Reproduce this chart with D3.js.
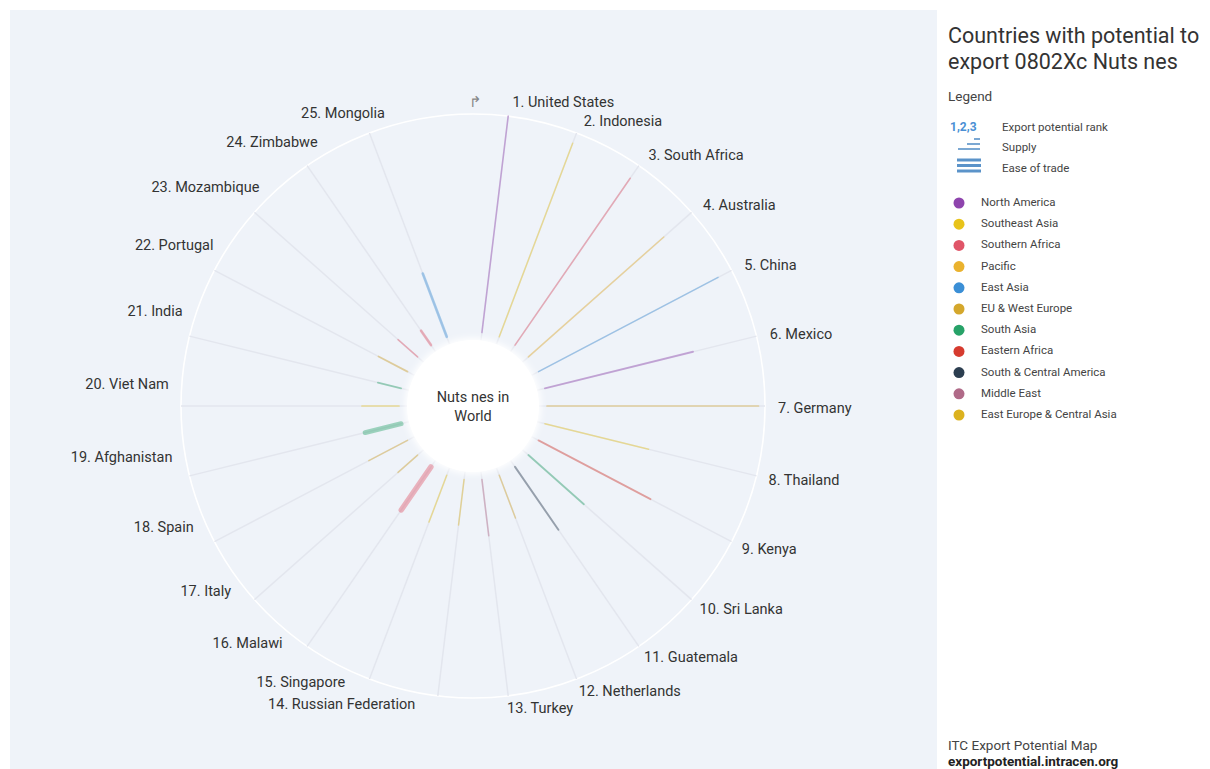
<!DOCTYPE html>
<html>
<head>
<meta charset="utf-8">
<script src="https://cdn.jsdelivr.net/npm/d3@7"></script>
<style>
  html, body { margin: 0; padding: 0; background: #ffffff; }
  svg { display: block; font-family: Roboto, "Noto Sans", sans-serif; }
</style>
</head>
<body>
<svg id="chart" width="1210" height="769"></svg>
<script>
// ---------------- data ----------------
const countries = ["United States","Indonesia","South Africa","Australia","China","Mexico","Germany","Thailand","Kenya","Sri Lanka","Guatemala","Netherlands","Turkey","Russian Federation","Singapore","Malawi","Italy","Spain","Afghanistan","Viet Nam","India","Portugal","Mozambique","Zimbabwe","Mongolia"];
const countryRegions = ["North America","Southeast Asia","Southern Africa","Pacific","East Asia","North America","EU & West Europe","Southeast Asia","Eastern Africa","South Asia","South & Central America","EU & West Europe","Middle East","East Europe & Central Asia","Southeast Asia","Southern Africa","EU & West Europe","EU & West Europe","South Asia","Southeast Asia","South Asia","EU & West Europe","Southern Africa","Southern Africa","East Asia"];
// supply index (0-100) -> bar length
const supply = [100, 95, 93, 83, 93, 70, 97, 49, 58, 34, 35, 21, 26, 21, 23, 24, 12, 20, 17, 17, 11, 15, 12, 8, 31];
// ease of trade index (0-100) -> bar width
const easeOfTrade = [8, 6, 8, 6, 6, 14, 10, 6, 14, 14, 16, 6, 8, 6, 6, 88, 6, 8, 76, 10, 12, 12, 6, 30, 32];
const regionNames = ["North America","Southeast Asia","Southern Africa","Pacific","East Asia","EU & West Europe","South Asia","Eastern Africa","South & Central America","Middle East","East Europe & Central Asia"];
const regionColors = ["#8e44ad","#e8c31a","#e05568","#eab22e","#3b8fd6","#d4a72c","#27a268","#d63b2f","#2c3e50","#b06a88","#dcb21e"];
const titleLines = ["Countries with potential to","export 0802Xc Nuts nes"];
const centerLines = ["Nuts nes in","World"];
const legendKeys = ["Export potential rank","Supply","Ease of trade"];

// ---------------- layout ----------------
const svg = d3.select("#chart");
const W = 1210, H = 769;
const cx = 473, cy = 406;
const innerR = 66, barStart = 74, outerR = 292, labelR = 305;

svg.append("rect").attr("x", 10).attr("y", 10).attr("width", 927).attr("height", H - 10)
  .attr("fill", "#eff3f9");

const color = d3.scaleOrdinal().domain(regionNames).range(regionColors);
// 26 angular slots, the last one left empty
const angle = d3.scaleBand().domain([...countries, "__gap__"]).range([0, 2 * Math.PI]).padding(0);
const ang = c => angle(c) + angle.bandwidth() / 2;
const rScale = d3.scaleLinear().domain([0, 100]).range([barStart, outerR]);
const wScale = d3.scaleLinear().domain([0, 100]).range([1.2, 6]);

const g = svg.append("g").attr("transform", `translate(${cx},${cy})`);
const px = (r, a) => r * Math.sin(a);
const py = (r, a) => -r * Math.cos(a);

// outer ring
g.append("circle").attr("r", outerR).attr("fill", "none").attr("stroke", "#ffffff").attr("stroke-width", 1.6);

// background spokes
g.selectAll("line.bg").data(countries).join("line").attr("class", "bg")
  .attr("x1", c => px(innerR, ang(c))).attr("y1", c => py(innerR, ang(c)))
  .attr("x2", c => px(outerR, ang(c))).attr("y2", c => py(outerR, ang(c)))
  .attr("stroke", "#e3e6ee").attr("stroke-width", 1.5);

// supply bars
g.selectAll("line.bar").data(countries).join("line").attr("class", "bar")
  .attr("x1", c => px(barStart, ang(c))).attr("y1", c => py(barStart, ang(c)))
  .attr("x2", (c, i) => px(rScale(supply[i]), ang(c))).attr("y2", (c, i) => py(rScale(supply[i]), ang(c)))
  .attr("stroke", (c, i) => color(countryRegions[i]))
  .attr("stroke-opacity", 0.42)
  .attr("stroke-width", (c, i) => wScale(easeOfTrade[i]))
  .attr("stroke-linecap", "round");

// inner white circle with soft glow
const defs = svg.append("defs");
const flt = defs.append("filter").attr("id", "soft").attr("x", "-20%").attr("y", "-20%").attr("width", "140%").attr("height", "140%");
flt.append("feGaussianBlur").attr("stdDeviation", 3);
g.append("circle").attr("r", innerR + 2).attr("fill", "#ffffff").attr("filter", "url(#soft)");
g.append("circle").attr("r", innerR).attr("fill", "#ffffff");

g.append("text").attr("text-anchor", "middle").attr("font-size", 14.5).attr("fill", "#333")
  .selectAll("tspan").data(centerLines).join("tspan")
  .attr("x", 0).attr("y", (d, i) => -4 + i * 19).text(d => d);

// rotate icon at top
g.append("text").attr("x", 2).attr("y", -outerR - 7).attr("text-anchor", "middle")
  .attr("font-size", 15).attr("fill", "#888").text("↱");

// country labels
g.selectAll("text.lbl").data(countries).join("text").attr("class", "lbl")
  .each(function (c, i) {
    const a = ang(c);
    const left = a > Math.PI;
    const la = a + (left ? 4 : 0.5) * Math.PI / 180;
    d3.select(this)
      .attr("x", px(labelR, la)).attr("y", py(labelR, la))
      .attr("text-anchor", left ? "end" : "start")
      .attr("dominant-baseline", "middle");
  })
  .attr("font-size", 14.5).attr("fill", "#333")
  .text((c, i) => `${i + 1}. ${c}`);

// ---------------- side panel ----------------
const side = svg.append("g").attr("transform", "translate(948,0)");
side.append("text").attr("font-size", 21.5).attr("fill", "#333")
  .selectAll("tspan").data(titleLines).join("tspan")
  .attr("x", 0).attr("y", (d, i) => 43 + i * 26).text(d => d);
side.append("text").attr("x", 0).attr("y", 101).attr("font-size", 13.5).attr("fill", "#444").text("Legend");

// key rows
side.append("text").attr("x", 2).attr("y", 131).attr("font-size", 12).attr("font-weight", "bold")
  .attr("fill", "#4a8fd4").text("1,2,3");
const keyY = [131, 151, 172];
side.selectAll("text.key").data(legendKeys).join("text").attr("class", "key")
  .attr("x", 54).attr("y", (d, i) => keyY[i]).attr("font-size", 11.5).attr("fill", "#444").text(d => d);
// supply icon
const supIcon = [{w: 6, y: 139}, {w: 13, y: 144}, {w: 22, y: 149}];
side.selectAll("line.sup").data(supIcon).join("line").attr("class", "sup")
  .attr("x1", d => 32 - d.w).attr("x2", 32).attr("y1", d => d.y).attr("y2", d => d.y)
  .attr("stroke", "#5b93c9").attr("stroke-width", 1.6);
// ease of trade icon
const easeIcon = [160, 165.5, 171];
side.selectAll("line.eas").data(easeIcon).join("line").attr("class", "eas")
  .attr("x1", 9).attr("x2", 33).attr("y1", d => d).attr("y2", d => d)
  .attr("stroke", "#5b93c9").attr("stroke-width", 3);

// region legend
const reg = side.selectAll("g.reg").data(regionNames).join("g").attr("class", "reg")
  .attr("transform", (d, i) => `translate(0,${203 + i * 21.2})`);
reg.append("circle").attr("cx", 11).attr("cy", 0).attr("r", 5.5).attr("fill", d => color(d));
reg.append("text").attr("x", 33).attr("y", 0).attr("dominant-baseline", "middle")
  .attr("font-size", 11.5).attr("fill", "#444").text(d => d);

// footer
side.append("text").attr("x", 0).attr("y", 750).attr("font-size", 13.5).attr("fill", "#444").text("ITC Export Potential Map");
side.append("text").attr("x", 0).attr("y", 766).attr("font-size", 13.5).attr("font-weight", "bold").attr("fill", "#222").text("exportpotential.intracen.org");
</script>
</body>
</html>
